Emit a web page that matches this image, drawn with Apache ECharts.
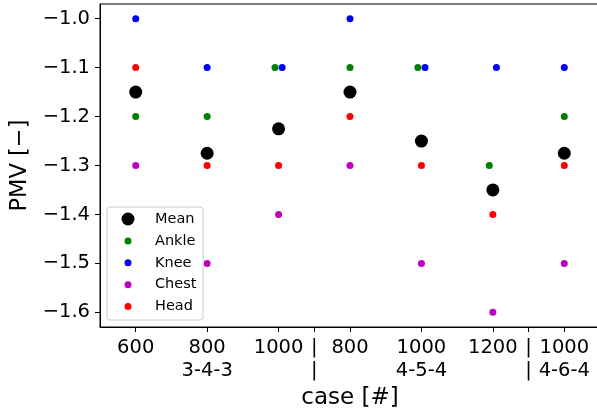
<!DOCTYPE html>
<html>
<head>
<meta charset="utf-8">
<script src="https://cdn.jsdelivr.net/npm/echarts@6/dist/echarts.min.js"></script>
<style>
html,body{margin:0;padding:0;background:#fff;}
#chart{width:597px;height:414px;}
</style>
</head>
<body>
<div id="chart"></div>
<script>
// ---- data ----
var categories = ['600', '800', '1000', '800', '1000', '1200', '1000'];
var subLabels = ['', '3-4-3', '', '', '4-5-4', '', '4-6-4'];
var separatorPositions = [2.5, 5.5];
var yTicks = [-1.0, -1.1, -1.2, -1.3, -1.4, -1.5, -1.6];
var seriesNames = ['Mean', 'Ankle', 'Knee', 'Chest', 'Head'];
var seriesColors = ['#000000', '#008000', '#0000ff', '#bf00bf', '#ff0000'];
var meanValues  = [-1.15, -1.275, -1.225, -1.15, -1.25, -1.35, -1.275];
var ankleValues = [-1.2, -1.2, -1.1, -1.1, -1.1, -1.3, -1.2];
var kneeValues  = [-1.0, -1.1, -1.1, -1.0, -1.1, -1.1, -1.1];
var chestValues = [-1.3, -1.5, -1.4, -1.3, -1.5, -1.6, -1.5];
var headValues  = [-1.1, -1.3, -1.3, -1.2, -1.3, -1.4, -1.3];
var ankleShift  = [0, 0, -0.05, 0, -0.05, -0.05, 0];
var kneeShift   = [0, 0, 0.05, 0, 0.05, 0.05, 0];

var FONT = 'DejaVu Sans';
function pts(vals, shift) {
  return vals.map(function (v, i) { return [i + (shift ? shift[i] : 0), v]; });
}
var xTickValues = categories.map(function (c, i) { return i; }).concat(separatorPositions).sort(function (a, b) { return a - b; });

// legend drawn as graphic (frame + markers + real text)
var legendGraphic = [{
  type: 'rect', z: 50, shape: {x: 107, y: 207, width: 96, height: 113, r: 3},
  style: {fill: 'rgba(255,255,255,0.8)', stroke: '#cccccc', lineWidth: 1}
}];
seriesNames.forEach(function (n, k) {
  var cy = 219 + k * 21.9;
  legendGraphic.push({type: 'circle', z: 51, shape: {cx: 128, cy: cy, r: k === 0 ? 6.5 : 3.5}, style: {fill: seriesColors[k]}});
  legendGraphic.push({type: 'text', z: 51, x: 155, y: cy, style: {text: n, fontFamily: FONT, fontSize: 14.5, fill: '#000', verticalAlign: 'middle', align: 'left'}});
});

var chart = echarts.init(document.getElementById('chart'), null, {renderer: 'canvas'});
chart.setOption({
  animation: false,
  backgroundColor: '#fff',
  textStyle: {fontFamily: FONT},
  grid: {left: 100, top: 4, right: -3, bottom: 87, show: true, borderColor: '#000', borderWidth: 1, containLabel: false, outerBoundsMode: 'none'},
  xAxis: {
    type: 'value', min: -0.5, max: 6.5,
    name: 'case [#]', nameLocation: 'middle', nameGap: 47,
    nameTextStyle: {fontFamily: FONT, fontSize: 23, color: '#000'},
    axisLine: {show: true, onZero: false, lineStyle: {color: '#000', width: 1}},
    axisTick: {show: true, length: 5, lineStyle: {color: '#000'}, customValues: xTickValues},
    axisLabel: {
      customValues: xTickValues, fontFamily: FONT, fontSize: 19.5, lineHeight: 23, color: '#000', margin: 9,
      formatter: function (v) {
        if (separatorPositions.indexOf(v) >= 0) return '|\n|';
        var i = Math.round(v);
        return subLabels[i] ? categories[i] + '\n' + subLabels[i] : categories[i];
      }
    },
    splitLine: {show: false}
  },
  yAxis: {
    type: 'value', min: -1.63, max: -0.97,
    name: 'PMV [\u2212]', nameLocation: 'middle', nameGap: 66, nameRotate: 90,
    nameTextStyle: {fontFamily: FONT, fontSize: 22.5, color: '#000'},
    axisLine: {show: true, onZero: false, lineStyle: {color: '#000', width: 1}},
    axisTick: {show: true, length: 5, lineStyle: {color: '#000'}, customValues: yTicks},
    axisLabel: {
      customValues: yTicks, fontFamily: FONT, fontSize: 19.5, color: '#000', margin: 10,
      formatter: function (v) { return v.toFixed(1).replace('-', '\u2212'); }
    },
    splitLine: {show: false}
  },
  graphic: legendGraphic,
  series: [
    {name: 'Mean', type: 'scatter', symbolSize: 13, itemStyle: {color: seriesColors[0], opacity: 1}, data: pts(meanValues)},
    {name: 'Ankle', type: 'scatter', symbolSize: 7, itemStyle: {color: seriesColors[1], opacity: 1}, data: pts(ankleValues, ankleShift)},
    {name: 'Knee', type: 'scatter', symbolSize: 7, itemStyle: {color: seriesColors[2], opacity: 1}, data: pts(kneeValues, kneeShift)},
    {name: 'Chest', type: 'scatter', symbolSize: 7, itemStyle: {color: seriesColors[3], opacity: 1}, data: pts(chestValues)},
    {name: 'Head', type: 'scatter', symbolSize: 7, itemStyle: {color: seriesColors[4], opacity: 1}, data: pts(headValues)}
  ]
});
</script>
</body>
</html>
